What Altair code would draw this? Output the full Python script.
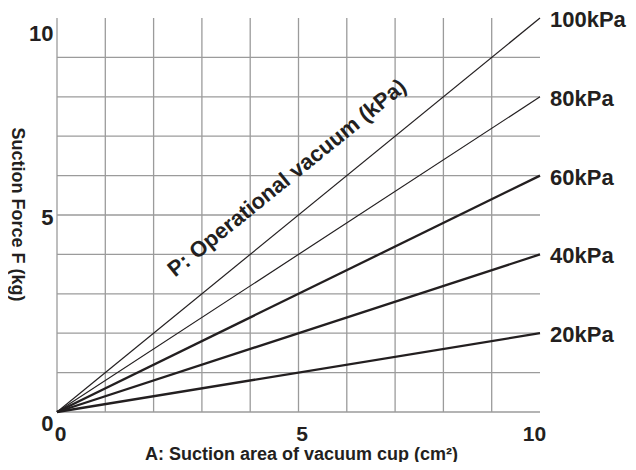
import altair as alt
import pandas as pd

# ---- data ----
pressures = [20, 40, 60, 80, 100]          # kPa
force_at_10 = [2, 4, 6, 8, 10]             # kg at A = 10 cm²
series_labels = ["20kPa", "40kPa", "60kPa", "80kPa", "100kPa"]
area_start = 0
area_end = 10
grid_values = [0, 1, 2, 3, 4, 5, 6, 7, 8, 9]
tick_values = [0, 5, 10]
x_title = "A: Suction area of vacuum cup (cm²)"
y_title = "Suction Force F (kg)"
annotation_text = ["P: Operational vacuum (kPa)"]
annotation_A = [4.76]
annotation_F = [5.94]

# ---- tables ----
rows = []
for p, f in zip(pressures, force_at_10):
    rows.append({"P": p, "A": area_start, "F": 0})
    rows.append({"P": p, "A": area_end, "F": f})
lines_df = pd.DataFrame(rows)
lab_df = pd.DataFrame({"A": [area_end] * len(pressures), "F": force_at_10, "label": series_labels})
vgrid_df = pd.DataFrame({"A": grid_values})
hgrid_df = pd.DataFrame({"F": grid_values})
ann_df = pd.DataFrame({"A": annotation_A, "F": annotation_F, "t": annotation_text})

FONT = "Liberation Sans"
INK = "#231f20"
GRID = "#9b9b9b"

xs = alt.Scale(domain=[0, 10], nice=False)
ys = alt.Scale(domain=[0, 10], nice=False)

x_axis = alt.Axis(
    values=tick_values, grid=False, domain=False, ticks=False,
    labelFont=FONT, labelFontSize=21, labelFontWeight="bold", labelColor=INK,
    labelFlush=False, labelPadding=11,
    labelOffset={"condition": [{"test": "datum.value == 10", "value": -6}], "value": 3},
    title=x_title, titleFont=FONT, titleFontSize=18, titleFontWeight="bold", titleColor=INK,
    titleX=244, titleY=47, titleBaseline="alphabetic", titleAlign="center",
)
y_axis = alt.Axis(
    values=tick_values, grid=False, domain=False, ticks=False,
    labelFont=FONT, labelFontSize=22, labelFontWeight="bold", labelColor=INK,
    labelPadding=4,
    labelOffset={"condition": [{"test": "datum.value == 10", "value": 15},
                               {"test": "datum.value == 0", "value": 11}], "value": 2},
    title=y_title, titleFont=FONT, titleFontSize=18, titleFontWeight="bold", titleColor=INK,
    titleX=-46, titleY=196, titleAngle=90, titleAlign="center", titleBaseline="alphabetic",
)

X = alt.X("A:Q", scale=xs, axis=x_axis)
Y = alt.Y("F:Q", scale=ys, axis=y_axis)

vgrid = alt.Chart(vgrid_df).mark_rule(color=GRID, strokeWidth=1.3).encode(x=X)
hgrid = alt.Chart(hgrid_df).mark_rule(color=GRID, strokeWidth=1.3).encode(y=Y)

lines = alt.Chart(lines_df).mark_line(color=INK, clip=False).encode(
    x=X, y=Y, detail="P:N",
    strokeWidth=alt.condition("datum.P >= 80", alt.value(1.2), alt.value(2.3)),
)

labels = alt.Chart(lab_df).mark_text(
    align="left", baseline="middle", dx=10, dy=2,
    font=FONT, fontSize=22, fontWeight="bold", color=INK,
).encode(x=X, y=Y, text="label:N")

annotation = alt.Chart(ann_df).mark_text(
    align="center", baseline="middle", angle=321,
    font=FONT, fontSize=22, fontWeight="bold", color=INK,
).encode(x=X, y=Y, text="t:N")

chart = alt.layer(vgrid, hgrid, lines, labels, annotation).properties(
    width=483, height=394,
    autosize=alt.AutoSizeParams(type="none"),
    padding={"left": 49, "top": 10, "right": 88, "bottom": 50},
    background="white",
).configure_view(stroke=None)

chart.save("out.html", embed_options={"renderer": "svg", "actions": False})
